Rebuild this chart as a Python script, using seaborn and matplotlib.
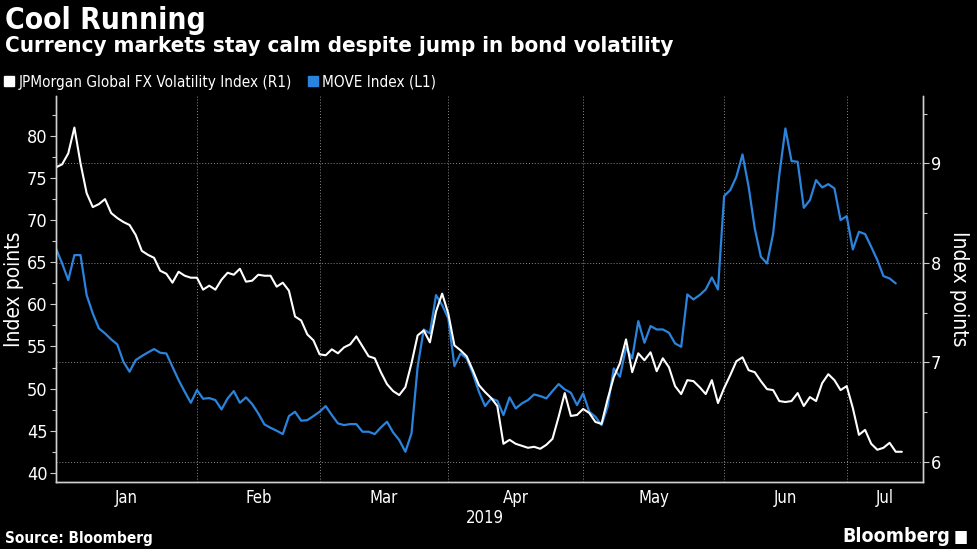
import numpy as np
import pandas as pd
import matplotlib
matplotlib.use("Agg")
import matplotlib.pyplot as plt
from matplotlib.lines import Line2D
from matplotlib.ticker import MultipleLocator, FixedLocator, NullFormatter
import seaborn as sns

# ---------------- data (one value per weekday, from 2019-01-01) ----------------
# JPMorgan Global FX Volatility Index (right axis)
fx_vol = [
    8.96, 8.99, 9.10, 9.36, 9.00, 8.70, 8.56, 8.59, 8.64, 8.50,
    8.45, 8.41, 8.38, 8.28, 8.12, 8.08, 8.05, 7.92, 7.89, 7.80,
    7.91, 7.87, 7.85, 7.85, 7.73, 7.77, 7.73, 7.83, 7.90, 7.88,
    7.94, 7.81, 7.82, 7.88, 7.87, 7.87, 7.76, 7.80, 7.72, 7.46,
    7.42, 7.28, 7.22, 7.08, 7.07, 7.13, 7.09, 7.15, 7.18, 7.26,
    7.16, 7.06, 7.04, 6.90, 6.78, 6.71, 6.67, 6.75, 6.99, 7.27,
    7.32, 7.20, 7.51, 7.69, 7.49, 7.17, 7.12, 7.06, 6.92, 6.77,
    6.70, 6.64, 6.56, 6.18, 6.22, 6.18, 6.16, 6.14, 6.15, 6.13,
    6.17, 6.23, 6.45, 6.69, 6.46, 6.47, 6.53, 6.49, 6.40, 6.38,
    6.63, 6.85, 6.99, 7.23, 6.90, 7.09, 7.02, 7.10, 6.91, 7.04,
    6.95, 6.76, 6.68, 6.82, 6.81, 6.75, 6.68, 6.82, 6.59, 6.74,
    6.87, 7.01, 7.05, 6.92, 6.90, 6.81, 6.73, 6.72, 6.61, 6.60,
    6.61, 6.69, 6.56, 6.65, 6.61, 6.79, 6.88, 6.82, 6.72, 6.76,
    6.54, 6.27, 6.32, 6.18, 6.12, 6.14, 6.19, 6.10, 6.10,
]

# MOVE Index (left axis)
move_index = [
    66.64, 64.86, 62.88, 65.85, 65.85, 61.10, 58.92, 57.14, 56.55, 55.84,
    55.24, 53.18, 52.00, 53.38, 53.86, 54.29, 54.69, 54.25, 54.17, 52.59,
    51.01, 49.62, 48.31, 49.82, 48.79, 48.87, 48.63, 47.52, 48.83, 49.70,
    48.31, 48.95, 48.16, 47.05, 45.74, 45.34, 44.99, 44.59, 46.73, 47.24,
    46.18, 46.25, 46.73, 47.24, 47.92, 46.85, 45.86, 45.66, 45.78, 45.78,
    44.87, 44.87, 44.59, 45.38, 46.06, 44.79, 43.88, 42.49, 44.67, 52.59,
    57.02, 56.55, 61.10, 59.91, 58.33, 52.67, 54.17, 53.58, 51.80, 49.62,
    47.92, 48.83, 48.55, 46.85, 48.95, 47.64, 48.23, 48.63, 49.30, 49.11,
    48.83, 49.70, 50.53, 49.90, 49.50, 48.04, 49.42, 47.24, 46.65, 45.66,
    47.84, 52.39, 51.40, 54.89, 53.58, 58.01, 55.44, 57.42, 57.02, 57.02,
    56.63, 55.36, 54.96, 61.18, 60.59, 61.10, 61.77, 63.20, 61.77, 72.86,
    73.57, 75.15, 77.81, 73.97, 69.02, 65.65, 64.86, 68.42, 75.35, 80.89,
    77.02, 76.94, 71.47, 72.38, 74.76, 73.89, 74.28, 73.77, 70.01, 70.48,
    66.52, 68.62, 68.35, 66.84, 65.26, 63.36, 63.08, 62.49,
]

month_labels = ["Jan", "Feb", "Mar", "Apr", "May", "Jun", "Jul"]
year_label = "2019"

dates = pd.bdate_range("2019-01-01", periods=len(fx_vol))

df_fx = pd.DataFrame({"day": np.arange(len(fx_vol)), "value": fx_vol})
df_move = pd.DataFrame({"day": np.arange(len(move_index)), "value": move_index})

# first weekday of each month -> position on the weekday axis
month_starts = [i for i in range(len(dates)) if i == 0 or dates[i].month != dates[i - 1].month]

# ---------------- style ----------------
BG = "black"
FG = "white"
BLUE = "#2a83dc"
GRID = "#8a8a8a"

sns.set_style("dark", {"axes.facecolor": BG, "figure.facecolor": BG})
plt.rcParams["font.family"] = ["DejaVu Sans"]
plt.rcParams["font.stretch"] = "condensed"

fig = plt.figure(figsize=(9.77, 5.49), dpi=100)
ax1 = fig.add_axes([56 / 977, 1 - 482 / 549, (922.7 - 56) / 977, (482 - 96) / 549])
ax2 = ax1.twinx()

sns.lineplot(data=df_move, x="day", y="value", ax=ax1, color=BLUE, linewidth=1.6)
sns.lineplot(data=df_fx, x="day", y="value", ax=ax2, color=FG, linewidth=1.5)

x_end = 141.4
ax1.set_xlim(0, x_end)
ax1.set_ylim(38.9, 84.75)
ax2.set_ylim(5.796, 9.677)

# x ticks: marks at month starts, labels in the middle of each month
ax1.xaxis.set_major_locator(FixedLocator(month_starts))
ax1.xaxis.set_major_formatter(NullFormatter())
bounds = month_starts + [x_end]
mids = [(bounds[k] + bounds[k + 1]) / 2 for k in range(len(month_starts))]
ax1.xaxis.set_minor_locator(FixedLocator(mids))
ax1.set_xticklabels(month_labels, minor=True)
ax1.tick_params(axis="x", which="major", length=4, width=0.8, color="#cccccc", direction="out")
ax1.tick_params(axis="x", which="minor", length=0, labelsize=12, labelcolor=FG, pad=5)

# y ticks
ax1.yaxis.set_major_locator(MultipleLocator(5))
ax1.yaxis.set_minor_locator(MultipleLocator(2.5))
ax2.yaxis.set_major_locator(MultipleLocator(1))
ax2.yaxis.set_minor_locator(MultipleLocator(0.5))
for ax in (ax1, ax2):
    ax.tick_params(axis="y", which="major", length=4, width=0.8, color="#cccccc",
                   labelsize=13, labelcolor=FG, direction="out", pad=2)
    ax.tick_params(axis="y", which="minor", length=3, width=0.8, color="#cccccc", direction="out")
    ax.set_xlabel("")

ax1.set_ylabel("Index points", color=FG, fontsize=15, labelpad=2)
ax2.set_ylabel("Index points", color=FG, fontsize=15, rotation=270, labelpad=20)
ax1.text(70, -0.07, year_label, transform=ax1.get_xaxis_transform(),
         ha="center", va="top", color=FG, fontsize=12)

# grid
ax1.grid(axis="x", which="major", color=GRID, linestyle=(0, (1, 2)), linewidth=0.7)
ax1.grid(axis="y", visible=False)
ax2.grid(axis="y", which="major", color=GRID, linestyle=(0, (1, 2)), linewidth=0.7)
ax2.grid(axis="x", visible=False)

for ax in (ax1, ax2):
    ax.spines["top"].set_visible(False)
    for s in ("left", "right", "bottom"):
        ax.spines[s].set_visible(True)
        ax.spines[s].set_color("#d0d0d0")
        ax.spines[s].set_linewidth(1.0)

# ---------------- titles, legend, footer ----------------
fig.text(5 / 977, 1 - 6 / 549, "Cool Running", ha="left", va="top",
         fontsize=21.5, fontweight="bold", color=FG)
fig.text(5 / 977, 1 - 36 / 549, "Currency markets stay calm despite jump in bond volatility",
         ha="left", va="top", fontsize=16, fontweight="bold", color=FG)

handles = [
    Line2D([], [], marker="s", linestyle="none", color=FG, markersize=7),
    Line2D([], [], marker="s", linestyle="none", color=BLUE, markersize=7),
]
fig.legend(handles, ["JPMorgan Global FX Volatility Index (R1)", "MOVE Index (L1)"],
           loc="center left", bbox_to_anchor=(0.0, 1 - 82 / 549), ncol=2, frameon=False,
           handlelength=0.8, handletextpad=0.2, columnspacing=1.0, labelcolor=FG, fontsize=11,
           borderaxespad=0, borderpad=0.2)

fig.text(5 / 977, 1 - 546 / 549, "Source: Bloomberg", ha="left", va="bottom",
         fontsize=11, fontweight="bold", color=FG)
fig.text(950 / 977, 1 - 546 / 549, "Bloomberg", ha="right", va="bottom",
         fontsize=14, fontweight="bold", color=FG)
fig.text(968 / 977, 1 - 546 / 549, "\u25A0", ha="right", va="bottom", fontsize=12, color=FG)

fig.savefig("out.png", dpi=100, facecolor=BG)
